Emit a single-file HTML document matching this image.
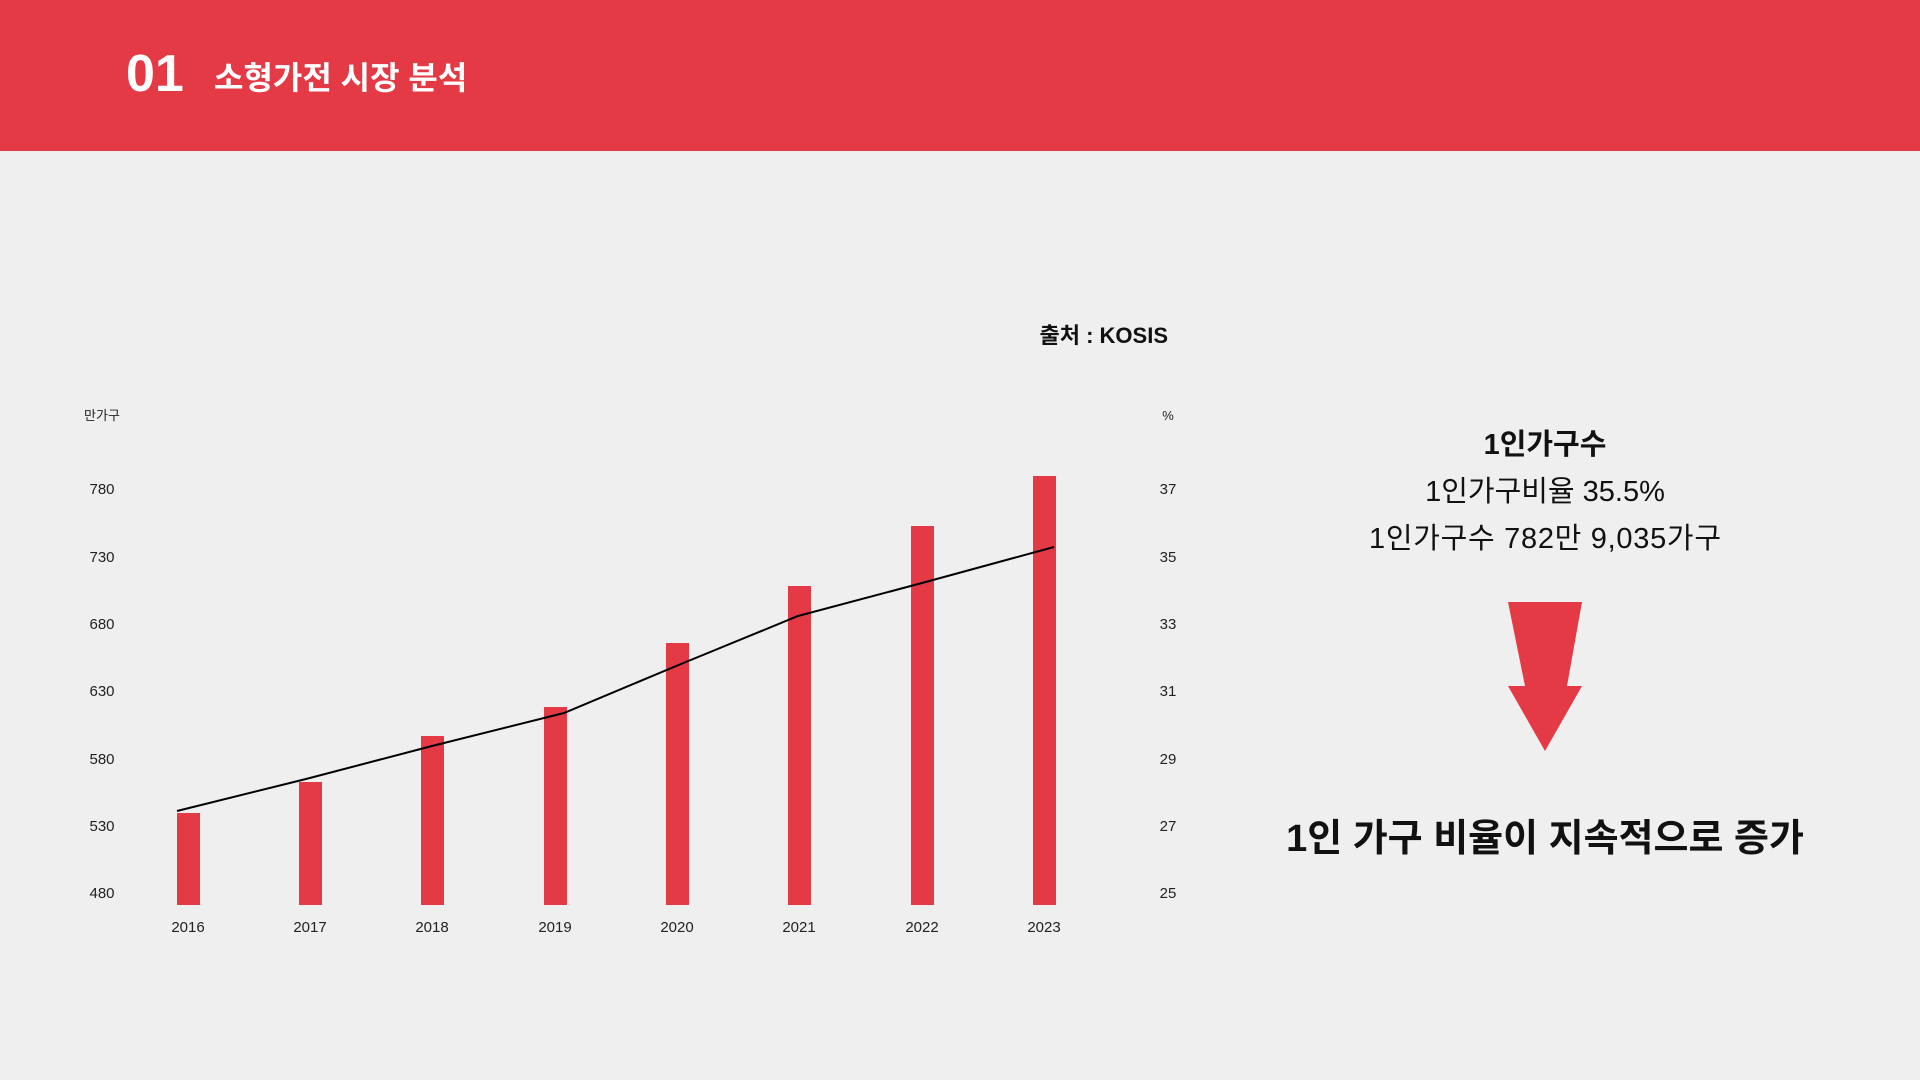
<!DOCTYPE html>
<html><head><meta charset="utf-8"><style>
body{margin:0;width:1920px;height:1080px;background:#efefef;overflow:hidden;font-family:"Liberation Sans","Noto Sans CJK KR",sans-serif;position:relative}
.hdr{position:absolute;left:0;top:0;width:1920px;height:151px;background:#e33a45}
.t{position:absolute;white-space:nowrap}
</style></head><body>
<div class="hdr"></div>
<div class="t" style="left:126px;top:44px;font-size:52px;font-weight:bold;color:#fff">01</div>
<div class="t" style="left:214px;top:53px;font-size:32px;font-weight:bold;color:#fff">소형가전 시장 분석</div>
<div class="t" style="right:752px;top:318px;font-size:22px;font-weight:bold;color:#111">출처 : KOSIS</div>
<svg style="position:absolute;left:0;top:0" width="1920" height="1080" font-family="Liberation Sans, Noto Sans CJK KR, sans-serif" font-size="15" fill="#222">
<text x="102" y="420" text-anchor="middle" font-size="13">만가구</text>
<text x="1168" y="420" text-anchor="middle" font-size="13">%</text>
<g text-anchor="middle">
<text x="102" y="494">780</text><text x="102" y="562">730</text><text x="102" y="629">680</text><text x="102" y="696">630</text><text x="102" y="764">580</text><text x="102" y="831">530</text><text x="102" y="898">480</text>
<text x="1168" y="494">37</text><text x="1168" y="562">35</text><text x="1168" y="629">33</text><text x="1168" y="696">31</text><text x="1168" y="764">29</text><text x="1168" y="831">27</text><text x="1168" y="898">25</text>
<text x="188" y="932">2016</text><text x="310" y="932">2017</text><text x="432" y="932">2018</text><text x="555" y="932">2019</text><text x="677" y="932">2020</text><text x="799" y="932">2021</text><text x="922" y="932">2022</text><text x="1044" y="932">2023</text>
</g>
<g fill="#e33a45">
<rect x="177" y="813" width="23" height="92"/><rect x="299" y="782" width="23" height="123"/><rect x="421" y="736" width="23" height="169"/><rect x="544" y="707" width="23" height="198"/><rect x="666" y="643" width="23" height="262"/><rect x="788" y="586" width="23" height="319"/><rect x="911" y="526" width="23" height="379"/><rect x="1033" y="476" width="23" height="429"/>
</g>
<polyline fill="none" stroke="#000" stroke-width="2" points="177,811 306,779 432,746 564,713 681,664 798,616 922,583 1054,547"/>
<polygon fill="#e33a45" points="1508,602 1582,602 1567,686 1582,686 1545,751 1508,686 1525,686"/>
<g text-anchor="middle" fill="#111">
<text x="1545" y="454" font-size="29" font-weight="bold">1인가구수</text>
<text x="1545" y="501" font-size="29">1인가구비율 35.5%</text>
<text x="1545" y="548" font-size="29" textLength="352">1인가구수 782만 9,035가구</text>
<text x="1545" y="851" font-size="38" font-weight="bold">1인 가구 비율이 지속적으로 증가</text>
</g>
</svg>
</body></html>
